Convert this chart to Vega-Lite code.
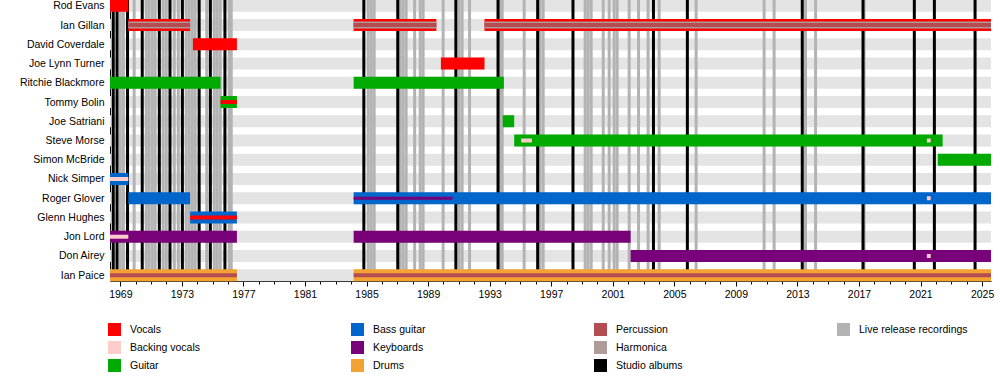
{
  "$schema": "https://vega.github.io/schema/vega-lite/v6.json",
  "width": 881,
  "height": 281,
  "autosize": {"type": "none"},
  "padding": {"left": 110, "top": 0, "right": 9, "bottom": 99},
  "config": {"view": {"stroke": null}, "font": "Liberation Sans"},
  "datasets": {
    "members": [
      {"member": "Rod Evans"}, {"member": "Ian Gillan"}, {"member": "David Coverdale"}, {"member": "Joe Lynn Turner"},
      {"member": "Ritchie Blackmore"}, {"member": "Tommy Bolin"}, {"member": "Joe Satriani"}, {"member": "Steve Morse"},
      {"member": "Simon McBride"}, {"member": "Nick Simper"}, {"member": "Roger Glover"}, {"member": "Glenn Hughes"},
      {"member": "Jon Lord"}, {"member": "Don Airey"}, {"member": "Ian Paice"}
    ],
    "live": [
      {"date": "1969-01-01", "kind": "Live release recordings"}, {"date": "1969-03-15", "kind": "Live release recordings"},
      {"date": "1969-11-25", "kind": "Live release recordings"}, {"date": "1970-09-10", "kind": "Live release recordings"},
      {"date": "1970-11-17", "kind": "Live release recordings"}, {"date": "1971-01-30", "kind": "Live release recordings"},
      {"date": "1971-04-08", "kind": "Live release recordings"}, {"date": "1971-10-15", "kind": "Live release recordings"},
      {"date": "1971-12-27", "kind": "Live release recordings"}, {"date": "1972-07-05", "kind": "Live release recordings"},
      {"date": "1972-10-08", "kind": "Live release recordings"}, {"date": "1973-04-15", "kind": "Live release recordings"},
      {"date": "1973-06-25", "kind": "Live release recordings"}, {"date": "1973-09-05", "kind": "Live release recordings"},
      {"date": "1973-11-13", "kind": "Live release recordings"}, {"date": "1974-08-15", "kind": "Live release recordings"},
      {"date": "1975-02-10", "kind": "Live release recordings"}, {"date": "1975-04-20", "kind": "Live release recordings"},
      {"date": "1975-07-01", "kind": "Live release recordings"}, {"date": "1976-01-30", "kind": "Live release recordings"},
      {"date": "1976-03-18", "kind": "Live release recordings"},
      {"date": "1985-02-10", "kind": "Live release recordings"}, {"date": "1985-04-22", "kind": "Live release recordings"},
      {"date": "1985-07-01", "kind": "Live release recordings"}, {"date": "1987-03-10", "kind": "Live release recordings"},
      {"date": "1987-05-18", "kind": "Live release recordings"}, {"date": "1987-07-30", "kind": "Live release recordings"},
      {"date": "1988-02-17", "kind": "Live release recordings"}, {"date": "1988-06-28", "kind": "Live release recordings"},
      {"date": "1988-09-05", "kind": "Live release recordings"}, {"date": "1989-12-24", "kind": "Live release recordings"},
      {"date": "1991-01-08", "kind": "Live release recordings"}, {"date": "1991-03-20", "kind": "Live release recordings"},
      {"date": "1991-09-12", "kind": "Live release recordings"}, {"date": "1993-09-08", "kind": "Live release recordings"},
      {"date": "1993-10-26", "kind": "Live release recordings"}, {"date": "1995-04-01", "kind": "Live release recordings"},
      {"date": "1996-04-12", "kind": "Live release recordings"}, {"date": "1996-06-25", "kind": "Live release recordings"},
      {"date": "1999-03-18", "kind": "Live release recordings"}, {"date": "1999-05-26", "kind": "Live release recordings"},
      {"date": "1999-08-08", "kind": "Live release recordings"}, {"date": "2000-05-20", "kind": "Live release recordings"},
      {"date": "2000-10-08", "kind": "Live release recordings"}, {"date": "2001-02-03", "kind": "Live release recordings"},
      {"date": "2001-04-16", "kind": "Live release recordings"}, {"date": "2002-01-26", "kind": "Live release recordings"},
      {"date": "2002-09-05", "kind": "Live release recordings"}, {"date": "2003-04-20", "kind": "Live release recordings"},
      {"date": "2004-01-08", "kind": "Live release recordings"}, {"date": "2006-06-03", "kind": "Live release recordings"},
      {"date": "2010-11-03", "kind": "Live release recordings"}, {"date": "2011-06-28", "kind": "Live release recordings"},
      {"date": "2013-07-12", "kind": "Live release recordings"}, {"date": "2014-03-08", "kind": "Live release recordings"},
      {"date": "2017-05-01", "kind": "Live release recordings"}
    ],
    "studio": [
      {"date": "1968-07-17", "kind": "Studio albums"}, {"date": "1968-10-15", "kind": "Studio albums"},
      {"date": "1969-06-21", "kind": "Studio albums"}, {"date": "1970-06-05", "kind": "Studio albums"},
      {"date": "1971-07-16", "kind": "Studio albums"}, {"date": "1972-03-25", "kind": "Studio albums"},
      {"date": "1973-01-13", "kind": "Studio albums"}, {"date": "1974-02-15", "kind": "Studio albums"},
      {"date": "1974-11-08", "kind": "Studio albums"}, {"date": "1975-10-20", "kind": "Studio albums"},
      {"date": "1984-10-29", "kind": "Studio albums"}, {"date": "1987-01-12", "kind": "Studio albums"},
      {"date": "1990-10-22", "kind": "Studio albums"}, {"date": "1993-07-19", "kind": "Studio albums"},
      {"date": "1996-02-15", "kind": "Studio albums"}, {"date": "1998-06-02", "kind": "Studio albums"},
      {"date": "2003-08-25", "kind": "Studio albums"}, {"date": "2005-11-07", "kind": "Studio albums"},
      {"date": "2013-04-26", "kind": "Studio albums"}, {"date": "2017-04-07", "kind": "Studio albums"},
      {"date": "2020-08-07", "kind": "Studio albums"}, {"date": "2021-11-26", "kind": "Studio albums"},
      {"date": "2024-07-19", "kind": "Studio albums"}
    ],
    "periods": [
      {"member": "Rod Evans", "instrument": "Vocals", "start": "1968-05-01", "end": "1969-07-10"},
      {"member": "Ian Gillan", "instrument": "Vocals", "start": "1969-07-10", "end": "1973-07-15"},
      {"member": "Ian Gillan", "instrument": "Vocals", "start": "1984-03-01", "end": "1989-07-15"},
      {"member": "Ian Gillan", "instrument": "Vocals", "start": "1992-09-01", "end": "2025-08-01"},
      {"member": "David Coverdale", "instrument": "Vocals", "start": "1973-09-20", "end": "1976-07-30"},
      {"member": "Joe Lynn Turner", "instrument": "Vocals", "start": "1989-11-01", "end": "1992-09-01"},
      {"member": "Ritchie Blackmore", "instrument": "Guitar", "start": "1968-05-01", "end": "1975-07-07"},
      {"member": "Ritchie Blackmore", "instrument": "Guitar", "start": "1984-03-01", "end": "1993-12-05"},
      {"member": "Tommy Bolin", "instrument": "Guitar", "start": "1975-07-07", "end": "1976-07-30"},
      {"member": "Joe Satriani", "instrument": "Guitar", "start": "1993-11-07", "end": "1994-08-07"},
      {"member": "Steve Morse", "instrument": "Guitar", "start": "1994-08-07", "end": "2022-06-10"},
      {"member": "Simon McBride", "instrument": "Guitar", "start": "2022-02-15", "end": "2025-08-01"},
      {"member": "Nick Simper", "instrument": "Bass guitar", "start": "1968-05-01", "end": "1969-07-10"},
      {"member": "Roger Glover", "instrument": "Bass guitar", "start": "1969-07-10", "end": "1973-07-15"},
      {"member": "Roger Glover", "instrument": "Bass guitar", "start": "1984-03-01", "end": "2025-08-01"},
      {"member": "Glenn Hughes", "instrument": "Bass guitar", "start": "1973-07-15", "end": "1976-07-30"},
      {"member": "Jon Lord", "instrument": "Keyboards", "start": "1968-05-01", "end": "1976-07-30"},
      {"member": "Jon Lord", "instrument": "Keyboards", "start": "1984-03-01", "end": "2002-03-01"},
      {"member": "Don Airey", "instrument": "Keyboards", "start": "2002-03-01", "end": "2025-08-01"},
      {"member": "Ian Paice", "instrument": "Drums", "start": "1968-05-01", "end": "1976-07-30"},
      {"member": "Ian Paice", "instrument": "Drums", "start": "1984-03-01", "end": "2025-08-01"}
    ],
    "wide": [
      {"member": "Ian Gillan", "instrument": "Harmonica", "start": "1969-07-10", "end": "1973-07-15"},
      {"member": "Ian Gillan", "instrument": "Harmonica", "start": "1984-03-01", "end": "1989-07-15"},
      {"member": "Ian Gillan", "instrument": "Harmonica", "start": "1992-09-01", "end": "2025-08-01"}
    ],
    "inner": [
      {"member": "Ian Gillan", "instrument": "Percussion", "start": "1969-07-10", "end": "1973-07-15"},
      {"member": "Ian Gillan", "instrument": "Percussion", "start": "1984-03-01", "end": "1989-07-15"},
      {"member": "Ian Gillan", "instrument": "Percussion", "start": "1992-09-01", "end": "2025-08-01"},
      {"member": "Tommy Bolin", "instrument": "Vocals", "start": "1975-07-07", "end": "1976-07-30"},
      {"member": "Glenn Hughes", "instrument": "Vocals", "start": "1973-07-15", "end": "1976-07-30"},
      {"member": "Nick Simper", "instrument": "Backing vocals", "start": "1968-05-01", "end": "1969-07-10"},
      {"member": "Jon Lord", "instrument": "Backing vocals", "start": "1968-05-01", "end": "1969-07-10"},
      {"member": "Ian Paice", "instrument": "Percussion", "start": "1968-05-01", "end": "1976-07-30"},
      {"member": "Ian Paice", "instrument": "Percussion", "start": "1984-03-01", "end": "2025-08-01"},
      {"member": "Steve Morse", "instrument": "Backing vocals", "start": "1995-01-20", "end": "1995-09-30"},
      {"member": "Steve Morse", "instrument": "Backing vocals", "start": "2021-06-01", "end": "2021-08-31"},
      {"member": "Roger Glover", "instrument": "Backing vocals", "start": "2021-06-01", "end": "2021-08-31"},
      {"member": "Don Airey", "instrument": "Backing vocals", "start": "2021-06-01", "end": "2021-08-31"}
    ],
    "thin": [
      {"member": "Roger Glover", "instrument": "Keyboards", "start": "1984-03-01", "end": "1990-08-01"}
    ]
  },
  "layer": [
    {
      "data": {"name": "members"},
      "mark": {"type": "bar", "size": 12, "color": "#e4e4e4"},
      "encoding": {
        "y": {
          "field": "member", "type": "nominal",
          "scale": {"type": "point", "padding": 0.3, "domain": ["Rod Evans", "Ian Gillan", "David Coverdale", "Joe Lynn Turner", "Ritchie Blackmore", "Tommy Bolin", "Joe Satriani", "Steve Morse", "Simon McBride", "Nick Simper", "Roger Glover", "Glenn Hughes", "Jon Lord", "Don Airey", "Ian Paice"]},
          "axis": {"title": null, "ticks": false, "grid": false, "domainColor": "black", "labelFontSize": 10.5, "labelColor": "black", "labelPadding": 6, "labelFont": "Liberation Sans"}
        },
        "x": {
          "datum": {"year": 1968, "month": 5, "date": 1}, "type": "temporal",
          "scale": {"domain": [{"year": 1968, "month": 5, "date": 1}, {"year": 2025, "month": 8, "date": 1}]},
          "axis": {
            "title": null, "grid": false, "domainColor": "black", "tickColor": "black",
            "tickCount": {"interval": "year", "step": 1},
            "labelExpr": "(year(datum.value) - 1969) % 4 === 0 ? timeFormat(datum.value, '%Y') : ''",
            "tickSize": {"condition": {"test": "(year(datum.value) - 1969) % 4 === 0", "value": 5}, "value": 3},
            "labelFontSize": 10.5, "labelColor": "black", "labelPadding": 3, "labelFlush": false, "labelOverlap": false, "labelFont": "Liberation Sans"
          }
        },
        "x2": {"datum": {"year": 2025, "month": 8, "date": 1}}
      }
    },
    {
      "data": {"name": "live"},
      "mark": {"type": "rule", "strokeWidth": 3},
      "encoding": {
        "x": {"field": "date", "type": "temporal", "title": null},
        "color": {"field": "kind", "type": "nominal"}
      }
    },
    {
      "data": {"name": "studio"},
      "mark": {"type": "rule", "strokeWidth": 3},
      "encoding": {
        "x": {"field": "date", "type": "temporal", "title": null},
        "color": {"field": "kind", "type": "nominal"}
      }
    },
    {
      "data": {"name": "periods"},
      "mark": {"type": "bar", "size": 12},
      "encoding": {
        "y": {"field": "member", "type": "nominal"},
        "x": {"field": "start", "type": "temporal", "title": null},
        "x2": {"field": "end"},
        "color": {
          "field": "instrument", "type": "nominal",
          "scale": {
            "domain": ["Vocals", "Bass guitar", "Percussion", "Live release recordings", "Backing vocals", "Keyboards", "Harmonica", " ", "Guitar", "Drums", "Studio albums"],
            "range": ["#ff0000", "#0066cc", "#b34d52", "#b3b3b3", "#ffcccc", "#780078", "#b09a9a", "#ffffff", "#00aa00", "#f4a232", "#000000"]
          },
          "legend": {
            "title": null, "orient": "none", "legendX": -2, "legendY": 323, "columns": 4, "direction": "horizontal",
            "gridAlign": "all", "columnPadding": 112, "rowPadding": 5, "padding": 0,
            "symbolType": "square", "symbolSize": 169, "symbolStrokeWidth": 0, "symbolOpacity": 1,
            "labelFontSize": 10.5, "labelOffset": 9, "labelColor": "black", "labelFont": "Liberation Sans"
          }
        }
      }
    },
    {
      "data": {"name": "wide"},
      "mark": {"type": "bar", "size": 7},
      "encoding": {
        "y": {"field": "member", "type": "nominal"},
        "x": {"field": "start", "type": "temporal", "title": null},
        "x2": {"field": "end"},
        "color": {"field": "instrument", "type": "nominal"}
      }
    },
    {
      "data": {"name": "inner"},
      "mark": {"type": "bar", "size": 4},
      "encoding": {
        "y": {"field": "member", "type": "nominal"},
        "x": {"field": "start", "type": "temporal", "title": null},
        "x2": {"field": "end"},
        "color": {"field": "instrument", "type": "nominal"}
      }
    },
    {
      "data": {"name": "thin"},
      "mark": {"type": "bar", "size": 3},
      "encoding": {
        "y": {"field": "member", "type": "nominal"},
        "x": {"field": "start", "type": "temporal", "title": null},
        "x2": {"field": "end"},
        "color": {"field": "instrument", "type": "nominal"}
      }
    }
  ]
}
